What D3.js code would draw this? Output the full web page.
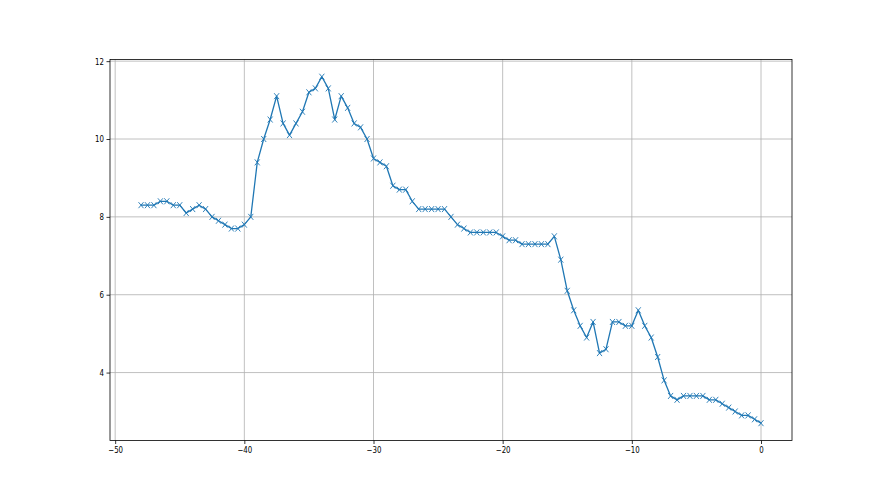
<!DOCTYPE html>
<html>
<head>
<meta charset="utf-8">
<script src="https://cdn.jsdelivr.net/npm/d3@7"></script>
<style>
  body { margin: 0; background: #fff; }
  svg { display: block; font-family: "DejaVu Sans", sans-serif; }
</style>
</head>
<body>
<svg id="chart" width="880" height="495"></svg>
<script>
// x positions of the samples
const xValues = [
  -48, -47.5, -47, -46.5, -46, -45.5, -45, -44.5, -44, -43.5,
  -43, -42.5, -42, -41.5, -41, -40.5, -40, -39.5, -39, -38.5,
  -38, -37.5, -37, -36.5, -36, -35.5, -35, -34.5, -34, -33.5,
  -33, -32.5, -32, -31.5, -31, -30.5, -30, -29.5, -29, -28.5,
  -28, -27.5, -27, -26.5, -26, -25.5, -25, -24.5, -24, -23.5,
  -23, -22.5, -22, -21.5, -21, -20.5, -20, -19.5, -19, -18.5,
  -18, -17.5, -17, -16.5, -16, -15.5, -15, -14.5, -14, -13.5,
  -13, -12.5, -12, -11.5, -11, -10.5, -10, -9.5, -9, -8.5,
  -8, -7.5, -7, -6.5, -6, -5.5, -5, -4.5, -4, -3.5,
  -3, -2.5, -2, -1.5, -1, -0.5, 0
]
// series values
const yValues = [
  8.3, 8.3, 8.3, 8.4, 8.4, 8.3, 8.3, 8.1, 8.2, 8.3,
  8.2, 8.0, 7.9, 7.8, 7.7, 7.7, 7.8, 8.0, 9.4, 10.0,
  10.5, 11.1, 10.4, 10.1, 10.4, 10.7, 11.2, 11.3, 11.6, 11.3,
  10.5, 11.1, 10.8, 10.4, 10.3, 10.0, 9.5, 9.4, 9.3, 8.8,
  8.7, 8.7, 8.4, 8.2, 8.2, 8.2, 8.2, 8.2, 8.0, 7.8,
  7.7, 7.6, 7.6, 7.6, 7.6, 7.6, 7.5, 7.4, 7.4, 7.3,
  7.3, 7.3, 7.3, 7.3, 7.5, 6.9, 6.1, 5.6, 5.2, 4.9,
  5.3, 4.5, 4.6, 5.3, 5.3, 5.2, 5.2, 5.6, 5.2, 4.9,
  4.4, 3.8, 3.4, 3.3, 3.4, 3.4, 3.4, 3.4, 3.3, 3.3,
  3.2, 3.1, 3.0, 2.9, 2.9, 2.8, 2.7
]
const xTicks = [-50, -40, -30, -20, -10, 0]
const yTicks = [4, 6, 8, 10, 12]

const data = xValues.map((x, i) => ({ x: x, y: yValues[i] }))

const svg = d3.select('#chart')

// axes box like matplotlib's default subplot
const boxLeft = 110, boxRight = 792, boxTop = 59.4, boxBottom = 440.5
const lineColor = '#1f77b4'
const gridColor = '#b0b0b0'
// the picture looks squeezed sideways, so the text is too
const squeeze = 0.78

// 5% margins around the data range
const xExt = d3.extent(xValues)
const yExt = d3.extent(yValues)
const xPad = (xExt[1] - xExt[0]) * 0.05
const yPad = (yExt[1] - yExt[0]) * 0.05

const xScale = d3.scaleLinear()
  .domain([xExt[0] - xPad, xExt[1] + xPad])
  .range([boxLeft, boxRight])

const yScale = d3.scaleLinear()
  .domain([yExt[0] - yPad, yExt[1] + yPad])
  .range([boxBottom, boxTop])

const fmt = d => String(d).replace('-', '\u2212')

// grid
svg.append('g')
  .selectAll('line')
  .data(xTicks)
  .join('line')
    .attr('x1', d => xScale(d))
    .attr('x2', d => xScale(d))
    .attr('y1', boxTop)
    .attr('y2', boxBottom)
    .attr('stroke', gridColor)
    .attr('stroke-width', 0.8)

svg.append('g')
  .selectAll('line')
  .data(yTicks)
  .join('line')
    .attr('x1', boxLeft)
    .attr('x2', boxRight)
    .attr('y1', d => yScale(d))
    .attr('y2', d => yScale(d))
    .attr('stroke', gridColor)
    .attr('stroke-width', 0.8)

// axes
const xAxis = d3.axisBottom(xScale)
  .tickValues(xTicks)
  .tickSize(3.5)
  .tickPadding(2.5)
  .tickFormat(fmt)

const yAxis = d3.axisLeft(yScale)
  .tickValues(yTicks)
  .tickSize(3.5)
  .tickPadding(2.5)
  .tickFormat(fmt)

const gx = svg.append('g')
  .attr('transform', `translate(0, ${boxBottom})`)
  .call(xAxis)

const gy = svg.append('g')
  .attr('transform', `translate(${boxLeft}, 0)`)
  .call(yAxis)

svg.selectAll('path.domain').remove()
svg.selectAll('.tick line').attr('stroke', '#000').attr('stroke-width', 0.8)
svg.selectAll('.tick text')
  .style('font-size', '9px')
  .style('font-family', '"DejaVu Sans", sans-serif')
  .attr('fill', '#000')
  .attr('transform', `scale(${squeeze}, 1)`)

// keep the right edge of the y labels next to the ticks after squeezing
gy.selectAll('.tick text').attr('x', -6 / squeeze)

// the line
const line = d3.line()
  .x(d => xScale(d.x))
  .y(d => yScale(d.y))

svg.append('path')
  .datum(data)
  .attr('d', line)
  .attr('fill', 'none')
  .attr('stroke', lineColor)
  .attr('stroke-width', 1.3)
  .attr('stroke-linejoin', 'round')

// 'x' markers
const mx = 2.5, my = 3
svg.append('g')
  .selectAll('path')
  .data(data)
  .join('path')
    .attr('d', d => {
      const cx = xScale(d.x), cy = yScale(d.y)
      return `M${cx - mx},${cy - my}L${cx + mx},${cy + my}M${cx - mx},${cy + my}L${cx + mx},${cy - my}`
    })
    .attr('stroke', lineColor)
    .attr('stroke-width', 0.9)
    .attr('fill', 'none')

// frame
svg.append('rect')
  .attr('x', boxLeft)
  .attr('y', boxTop)
  .attr('width', boxRight - boxLeft)
  .attr('height', boxBottom - boxTop)
  .attr('fill', 'none')
  .attr('stroke', '#000')
  .attr('stroke-width', 0.8)
</script>
</body>
</html>
